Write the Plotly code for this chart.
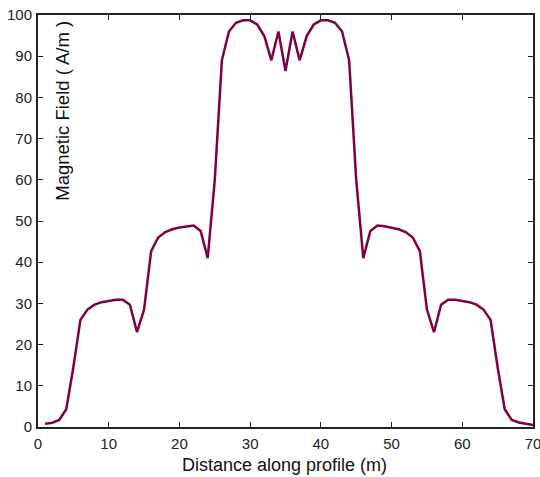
import plotly.graph_objects as go

distance = list(range(1, 71))
field = [
    0.8, 1.0, 1.7, 4.3, 14.5, 26.0, 28.5, 29.7, 30.3, 30.6,
    30.9, 30.9, 29.7, 23.0, 28.5, 42.7, 46.0, 47.3, 48.0, 48.4,
    48.7, 48.9, 47.6, 41.0, 60.0, 89.0, 96.0, 98.1, 98.7, 98.7,
    97.7, 94.9, 89.0, 96.0, 86.4, 96.0, 89.0, 94.9, 97.7, 98.7,
    98.7, 98.1, 96.0, 89.0, 60.0, 41.0, 47.6, 48.9, 48.7, 48.4,
    48.0, 47.3, 46.0, 42.7, 28.5, 23.0, 29.7, 30.9, 30.9, 30.6,
    30.3, 29.7, 28.5, 26.0, 14.5, 4.3, 1.7, 1.1, 0.8, 0.5,
]
x_ticks = [0, 10, 20, 30, 40, 50, 60, 70]
y_ticks = [0, 10, 20, 30, 40, 50, 60, 70, 80, 90, 100]

fig = go.Figure()
fig.add_trace(go.Scatter(
    x=distance, y=field, mode="lines",
    line=dict(color="#7f0040", width=2.5),
    showlegend=False, hoverinfo="skip",
))

font = "Liberation Sans, Arial, sans-serif"
axis_common = dict(
    showgrid=False, zeroline=False, showline=True, linecolor="#222222",
    linewidth=2, mirror="ticks", ticks="inside", ticklen=5, tickwidth=1,
    tickcolor="#222222", automargin=False, ticklabeloverflow="allow",
    tickfont=dict(family=font, size=15, color="#222222"),
)
fig.update_xaxes(range=[0, 70], tickvals=x_ticks, ticklabelstandoff=2, **axis_common)
fig.update_yaxes(range=[0, 100], tickvals=y_ticks, ticklabelstandoff=1, **axis_common)

fig.add_annotation(
    text="Distance along profile (m)", xref="paper", yref="paper",
    x=0.497, y=0, xanchor="center", yanchor="middle", yshift=-38,
    showarrow=False, font=dict(family=font, size=18, color="#111111"),
)
fig.add_annotation(
    text="Magnetic Field ( A/m )", xref="paper", yref="paper",
    x=0.05, y=0.767, xanchor="center", yanchor="middle", showarrow=False,
    textangle=-90, font=dict(family=font, size=18.5, color="#111111"),
)

fig.update_layout(
    width=540, height=477,
    margin=dict(l=38, r=7, t=15, b=50),
    paper_bgcolor="white", plot_bgcolor="white",
)
fig.write_html(
    "out.html",
    config={"displayModeBar": False},
    post_script="document.body.style.margin='0';document.body.style.padding='0';",
)
